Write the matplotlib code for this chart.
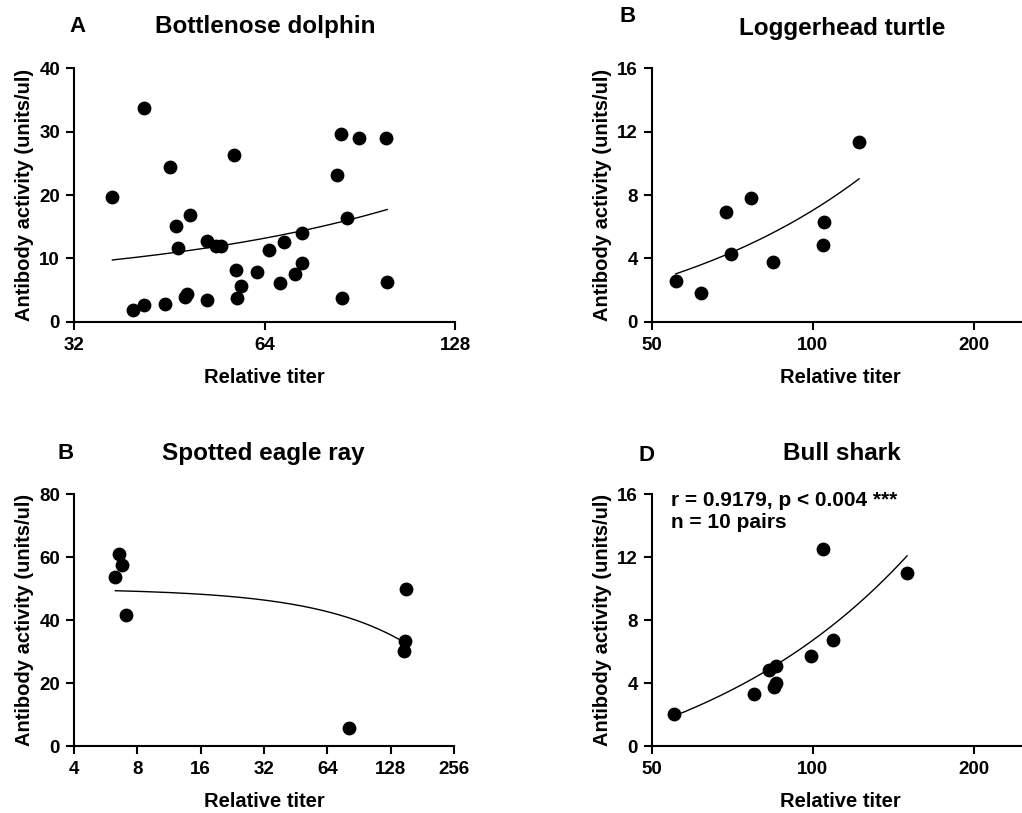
import matplotlib
matplotlib.use("Agg")
import matplotlib.pyplot as plt
import numpy as np
from matplotlib.ticker import FixedLocator, FixedFormatter, NullLocator

plt.rcParams['font.family'] = ['Liberation Sans', 'DejaVu Sans']
plt.rcParams['font.weight'] = 'bold'

# ---------------- data ----------------
dolphin_titer = [36.8, 41.3, 39.7, 41.3, 44.6, 45.4, 46.3, 46.8, 48.8, 48.2, 48.0,
                 51.9, 51.9, 53.6, 54.7, 57.3, 57.6, 57.9, 58.8, 62.2, 65.1, 67.7,
                 68.6, 71.6, 73.4, 73.4, 83.3, 84.6, 84.9, 86.5, 90.4, 99.4, 100.0]
dolphin_activity = [19.7, 33.8, 1.85, 2.7, 2.8, 24.4, 15.1, 11.6, 16.8, 4.3, 3.9,
                    3.4, 12.7, 12.0, 12.0, 26.3, 8.2, 3.7, 5.6, 7.8, 11.3, 6.1,
                    12.6, 7.6, 9.2, 14.0, 23.1, 29.7, 3.8, 16.4, 29.0, 29.0, 6.3]
dolphin_fit = (5.11, 0.126)          # intercept, slope

turtle_titer = [55.4, 61.7, 68.8, 70.3, 76.8, 84.2, 104.7, 105.0, 122.1]
turtle_activity = [2.57, 1.79, 6.93, 4.30, 7.81, 3.75, 4.85, 6.32, 11.35]
turtle_fit = (-1.97, 0.09)

ray_titer = [6.29, 6.55, 6.79, 7.04, 81.4, 151.4, 149.7, 148.7]
ray_activity = [53.6, 61.0, 57.6, 41.7, 5.6, 50.0, 33.2, 30.3]
ray_fit = (50.02, -0.1152)

shark_titer = [55.1, 77.6, 82.8, 85.3, 85.4, 84.8, 99.2, 104.5, 109.1, 150.1]
shark_activity = [2.01, 3.30, 4.8, 5.08, 4.02, 3.77, 5.71, 12.5, 6.73, 10.96]
shark_fit = (-3.99, 0.107)

W, H = 1022, 813
fig = plt.figure(figsize=(W / 100, H / 100), dpi=100)


def add_ax(left, right, top, bottom):
    return fig.add_axes([left / W, 1 - bottom / H, (right - left) / W, (bottom - top) / H])


def style(ax, xticks, xlim, yticks, ylim, base):
    ax.set_xscale('log', base=base)
    ax.set_xlim(*xlim)
    ax.set_ylim(*ylim)
    ax.xaxis.set_major_locator(FixedLocator(xticks))
    ax.xaxis.set_major_formatter(FixedFormatter([str(t) for t in xticks]))
    ax.xaxis.set_minor_locator(NullLocator())
    ax.set_yticks(yticks)
    ax.set_yticklabels([str(t) for t in yticks])
    for s in ('top', 'right'):
        ax.spines[s].set_visible(False)
    for s in ('left', 'bottom'):
        ax.spines[s].set_linewidth(1.5)
    ax.tick_params(direction='out', length=6, width=1.5, labelsize=13.5, pad=4)
    ax.tick_params(axis='x', pad=5)
    for lab in ax.get_xticklabels() + ax.get_yticklabels():
        lab.set_fontweight('bold')
    ax.set_xlabel('Relative titer', fontsize=14.5, fontweight='bold', labelpad=10)
    ax.set_ylabel('Antibody activity (units/ul)', fontsize=14.5, fontweight='bold', labelpad=4)
    ax.patch.set_visible(False)


def draw(ax, x, y, fit):
    ax.scatter(x, y, s=80, color='black', zorder=3, clip_on=False)
    xs = np.linspace(min(x), max(x), 200)
    ax.plot(xs, fit[0] + fit[1] * xs, color='black', lw=1.0, zorder=2)


# A
axA = add_ax(74, 455, 68.3, 321.7)
style(axA, [32, 64, 128], (32, 128), [0, 10, 20, 30, 40], (0, 40), 2)
draw(axA, dolphin_titer, dolphin_activity, dolphin_fit)

# B
axB = add_ax(651.7, 1030, 68.3, 321.7)
style(axB, [50, 100, 200], (50, 50 * 2 ** ((1030 - 651.7) / 161)), [0, 4, 8, 12, 16], (0, 16), 10)
draw(axB, turtle_titer, turtle_activity, turtle_fit)

# C
axC = add_ax(74, 454, 494, 746)
style(axC, [4, 8, 16, 32, 64, 128, 256], (4, 256), [0, 20, 40, 60, 80], (0, 80), 2)
draw(axC, ray_titer, ray_activity, ray_fit)

# D
axD = add_ax(651.7, 1030, 494, 746)
style(axD, [50, 100, 200], (50, 50 * 2 ** ((1030 - 651.7) / 161)), [0, 4, 8, 12, 16], (0, 16), 10)
draw(axD, shark_titer, shark_activity, shark_fit)

# titles / panel letters
tkw = dict(fontsize=17.5, fontweight='bold', ha='center', va='center')
lkw = dict(fontsize=16, fontweight='bold', ha='center', va='center')
fig.text(265 / W, 1 - 27 / H, 'Bottlenose dolphin', **tkw)
fig.text(77 / W, 1 - 27 / H, 'A', **lkw)
fig.text(841.7 / W, 1 - 28 / H, 'Loggerhead turtle', **tkw)
fig.text(628 / W, 1 - 17 / H, 'B', **lkw)
fig.text(263 / W, 1 - 453 / H, 'Spotted eagle ray', **tkw)
fig.text(66 / W, 1 - 453 / H, 'B', **lkw)
fig.text(841.7 / W, 1 - 453 / H, 'Bull shark', **tkw)
fig.text(646.7 / W, 1 - 455 / H, 'D', **lkw)

fig.text(671 / W, 1 - 500 / H, 'r = 0.9179, p < 0.004 ***', fontsize=15,
         fontweight='bold', ha='left', va='center')
fig.text(671 / W, 1 - 523 / H, 'n = 10 pairs', fontsize=15,
         fontweight='bold', ha='left', va='center')

fig.savefig('out.png', dpi=100)
